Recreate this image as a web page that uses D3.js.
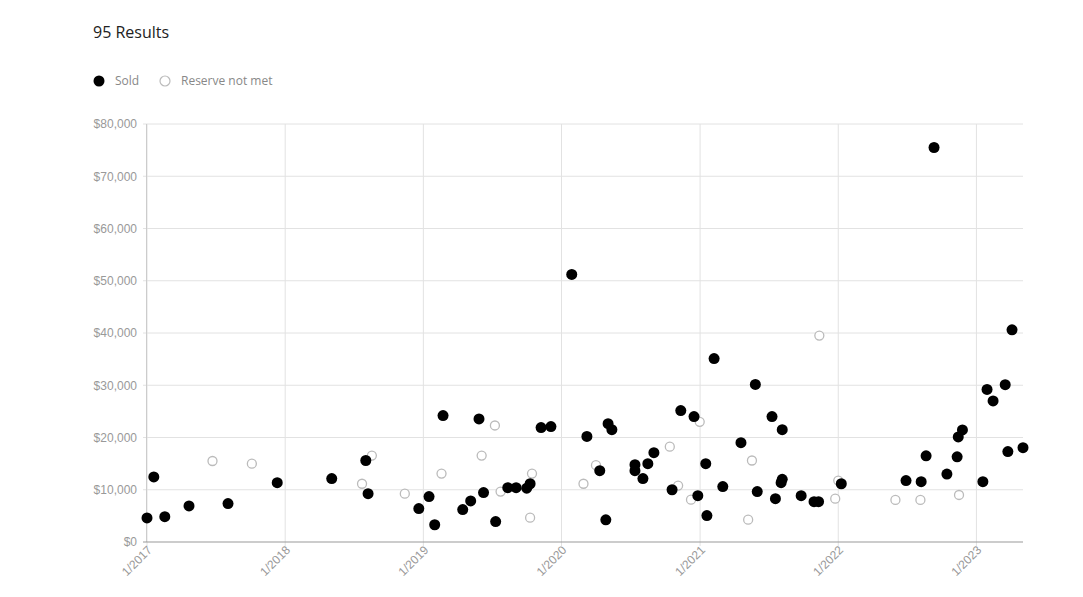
<!DOCTYPE html>
<html>
<head>
<meta charset="utf-8">
<script src="https://cdn.jsdelivr.net/npm/d3@7"></script>
<style>
  html, body { margin: 0; padding: 0; background: #fff; }
  svg { display: block; }
</style>
</head>
<body>
<svg id="chart" width="1083" height="597"></svg>
<script>
// ---- data ----
const title = "95 Results";
const seriesNames = ["Sold", "Reserve not met"];
const yTicks = [0, 10000, 20000, 30000, 40000, 50000, 60000, 70000, 80000];
const xTickDates = ["2017-01-01","2018-01-01","2019-01-01","2020-01-01","2021-01-01","2022-01-01","2023-01-01"];

const soldDates = ["2017-01-01","2017-01-19","2017-02-17","2017-04-22","2017-08-03","2017-12-11",
  "2018-05-04","2018-08-02","2018-08-08","2018-12-20",
  "2019-01-16","2019-01-31","2019-02-22","2019-04-15","2019-05-06","2019-05-28","2019-06-09","2019-07-11",
  "2019-08-12","2019-09-03","2019-10-01","2019-10-10","2019-11-08","2019-12-04",
  "2020-01-28","2020-03-08","2020-04-11","2020-04-27","2020-05-03","2020-05-13","2020-07-13","2020-07-13",
  "2020-08-03","2020-08-16","2020-09-01","2020-10-19","2020-11-11","2020-12-16","2020-12-26",
  "2021-01-16","2021-01-19","2021-02-07","2021-03-02","2021-04-19","2021-05-27","2021-06-01","2021-07-10",
  "2021-07-19","2021-08-06","2021-08-03","2021-08-06","2021-09-25","2021-10-29","2021-11-10",
  "2022-01-09","2022-06-29","2022-08-08","2022-08-21","2022-09-11","2022-10-15","2022-11-11","2022-11-14","2022-11-25",
  "2023-01-18","2023-01-29","2023-02-14","2023-03-18","2023-03-25","2023-04-05","2023-05-04"];
const soldValues = [4600,12450,4850,6900,7350,11350,
  12150,15600,9250,6400,
  8700,3300,24200,6200,7850,23550,9450,3900,
  10400,10400,10300,11150,21900,22100,
  51200,20200,13650,4250,22650,21500,14800,13650,
  12150,15000,17100,10000,25150,24000,8870,
  15000,5050,35100,10600,19000,30150,9650,24000,
  8300,21500,11350,12000,8870,7720,7720,
  11150,11750,11550,16500,75500,13000,16300,20100,21450,
  11550,29200,27000,30100,17300,40600,18050];

const rnmDates = ["2017-06-23","2017-10-05","2018-07-23","2018-08-18","2018-11-13",
  "2019-02-18","2019-06-04","2019-07-09","2019-07-24","2019-10-15","2019-10-10",
  "2020-02-28","2020-04-01","2020-10-13","2020-11-04","2020-12-08","2020-12-31",
  "2021-05-08","2021-05-18","2021-11-12","2021-12-24","2022-01-01",
  "2022-06-01","2022-08-06","2022-11-16"];
const rnmValues = [15500,15000,11150,16550,9250,
  13100,16550,22300,9650,13100,4650,
  11150,14700,18250,10800,8100,23000,
  4270,15600,39500,8300,11750,
  8050,8050,9000];

// ---- layout ----
const svg = d3.select("#chart");
const pLeft = 147, pRight = 1023, pTop = 124, pBottom = 542;
const parse = d3.timeParse("%Y-%m-%d");

const allDates = soldDates.concat(rnmDates).map(parse);
const x = d3.scaleTime().domain(d3.extent(allDates)).range([pLeft, pRight]);
const y = d3.scaleLinear().domain([0, 80000]).range([pBottom, pTop]);

// title
svg.append("text").attr("x", 93).attr("y", 38)
  .attr("font-family", "'Open Sans', sans-serif").attr("font-size", 16)
  .attr("fill", "#222").text(title);

// legend
const lg = svg.append("g").attr("font-family", "'Open Sans', sans-serif").attr("font-size", 12).attr("fill", "#888");
lg.append("circle").attr("cx", 99).attr("cy", 81).attr("r", 5.5).attr("fill", "#000");
lg.append("text").attr("x", 115).attr("y", 85).text(seriesNames[0]);
lg.append("circle").attr("cx", 165).attr("cy", 81).attr("r", 5).attr("fill", "#fff").attr("stroke", "#bbb").attr("stroke-width", 1.2);
lg.append("text").attr("x", 181).attr("y", 85).text(seriesNames[1]);

// gridlines
const grid = svg.append("g");
grid.selectAll("line.h").data(yTicks.slice(1)).join("line")
  .attr("x1", pLeft - 4).attr("x2", pRight)
  .attr("y1", d => y(d)).attr("y2", d => y(d))
  .attr("stroke", "#e2e2e2").attr("stroke-width", 1);
grid.selectAll("line.v").data(xTickDates.map(parse)).join("line")
  .attr("x1", d => x(d)).attr("x2", d => x(d))
  .attr("y1", pTop).attr("y2", pBottom + 4)
  .attr("stroke", "#e2e2e2").attr("stroke-width", 1);

// axis lines
svg.append("line").attr("x1", pLeft - 0.5).attr("x2", pLeft - 0.5).attr("y1", pTop).attr("y2", pBottom)
  .attr("stroke", "#ccc");
svg.append("line").attr("x1", pLeft - 4).attr("x2", pRight).attr("y1", pBottom).attr("y2", pBottom)
  .attr("stroke", "#999");

// y axis labels
const yAxis = d3.axisLeft(y).tickValues(yTicks).tickSize(0).tickPadding(10)
  .tickFormat(d => "$" + d3.format(",")(d));
const gy = svg.append("g").attr("transform", `translate(${pLeft},0)`).call(yAxis);
gy.select(".domain").remove();
gy.selectAll("text").attr("font-family", "'Liberation Sans', Arial, sans-serif")
  .attr("font-size", 12).attr("fill", "#999");

// x axis labels
const xAxis = d3.axisBottom(x).tickValues(xTickDates.map(parse)).tickSize(0).tickPadding(6)
  .tickFormat(d3.timeFormat("%-m/%Y"));
const gx = svg.append("g").attr("transform", `translate(0,${pBottom})`).call(xAxis);
gx.select(".domain").remove();
gx.selectAll("text").attr("font-family", "'Liberation Sans', Arial, sans-serif")
  .attr("font-size", 12).attr("fill", "#999")
  .attr("text-anchor", "end").attr("dx", "-2.5").attr("dy", "4")
  .attr("transform", "rotate(-45)");

// points
const rnm = rnmDates.map((d, i) => ({ date: parse(d), value: rnmValues[i] }));
const sold = soldDates.map((d, i) => ({ date: parse(d), value: soldValues[i] }));

svg.append("g").selectAll("circle").data(rnm).join("circle")
  .attr("cx", d => x(d.date)).attr("cy", d => y(d.value)).attr("r", 4.5)
  .attr("fill", "#fff").attr("stroke", "#bbb").attr("stroke-width", 1.3);

svg.append("g").selectAll("circle").data(sold).join("circle")
  .attr("cx", d => x(d.date)).attr("cy", d => y(d.value)).attr("r", 5.5)
  .attr("fill", "#000");
</script>
</body>
</html>
